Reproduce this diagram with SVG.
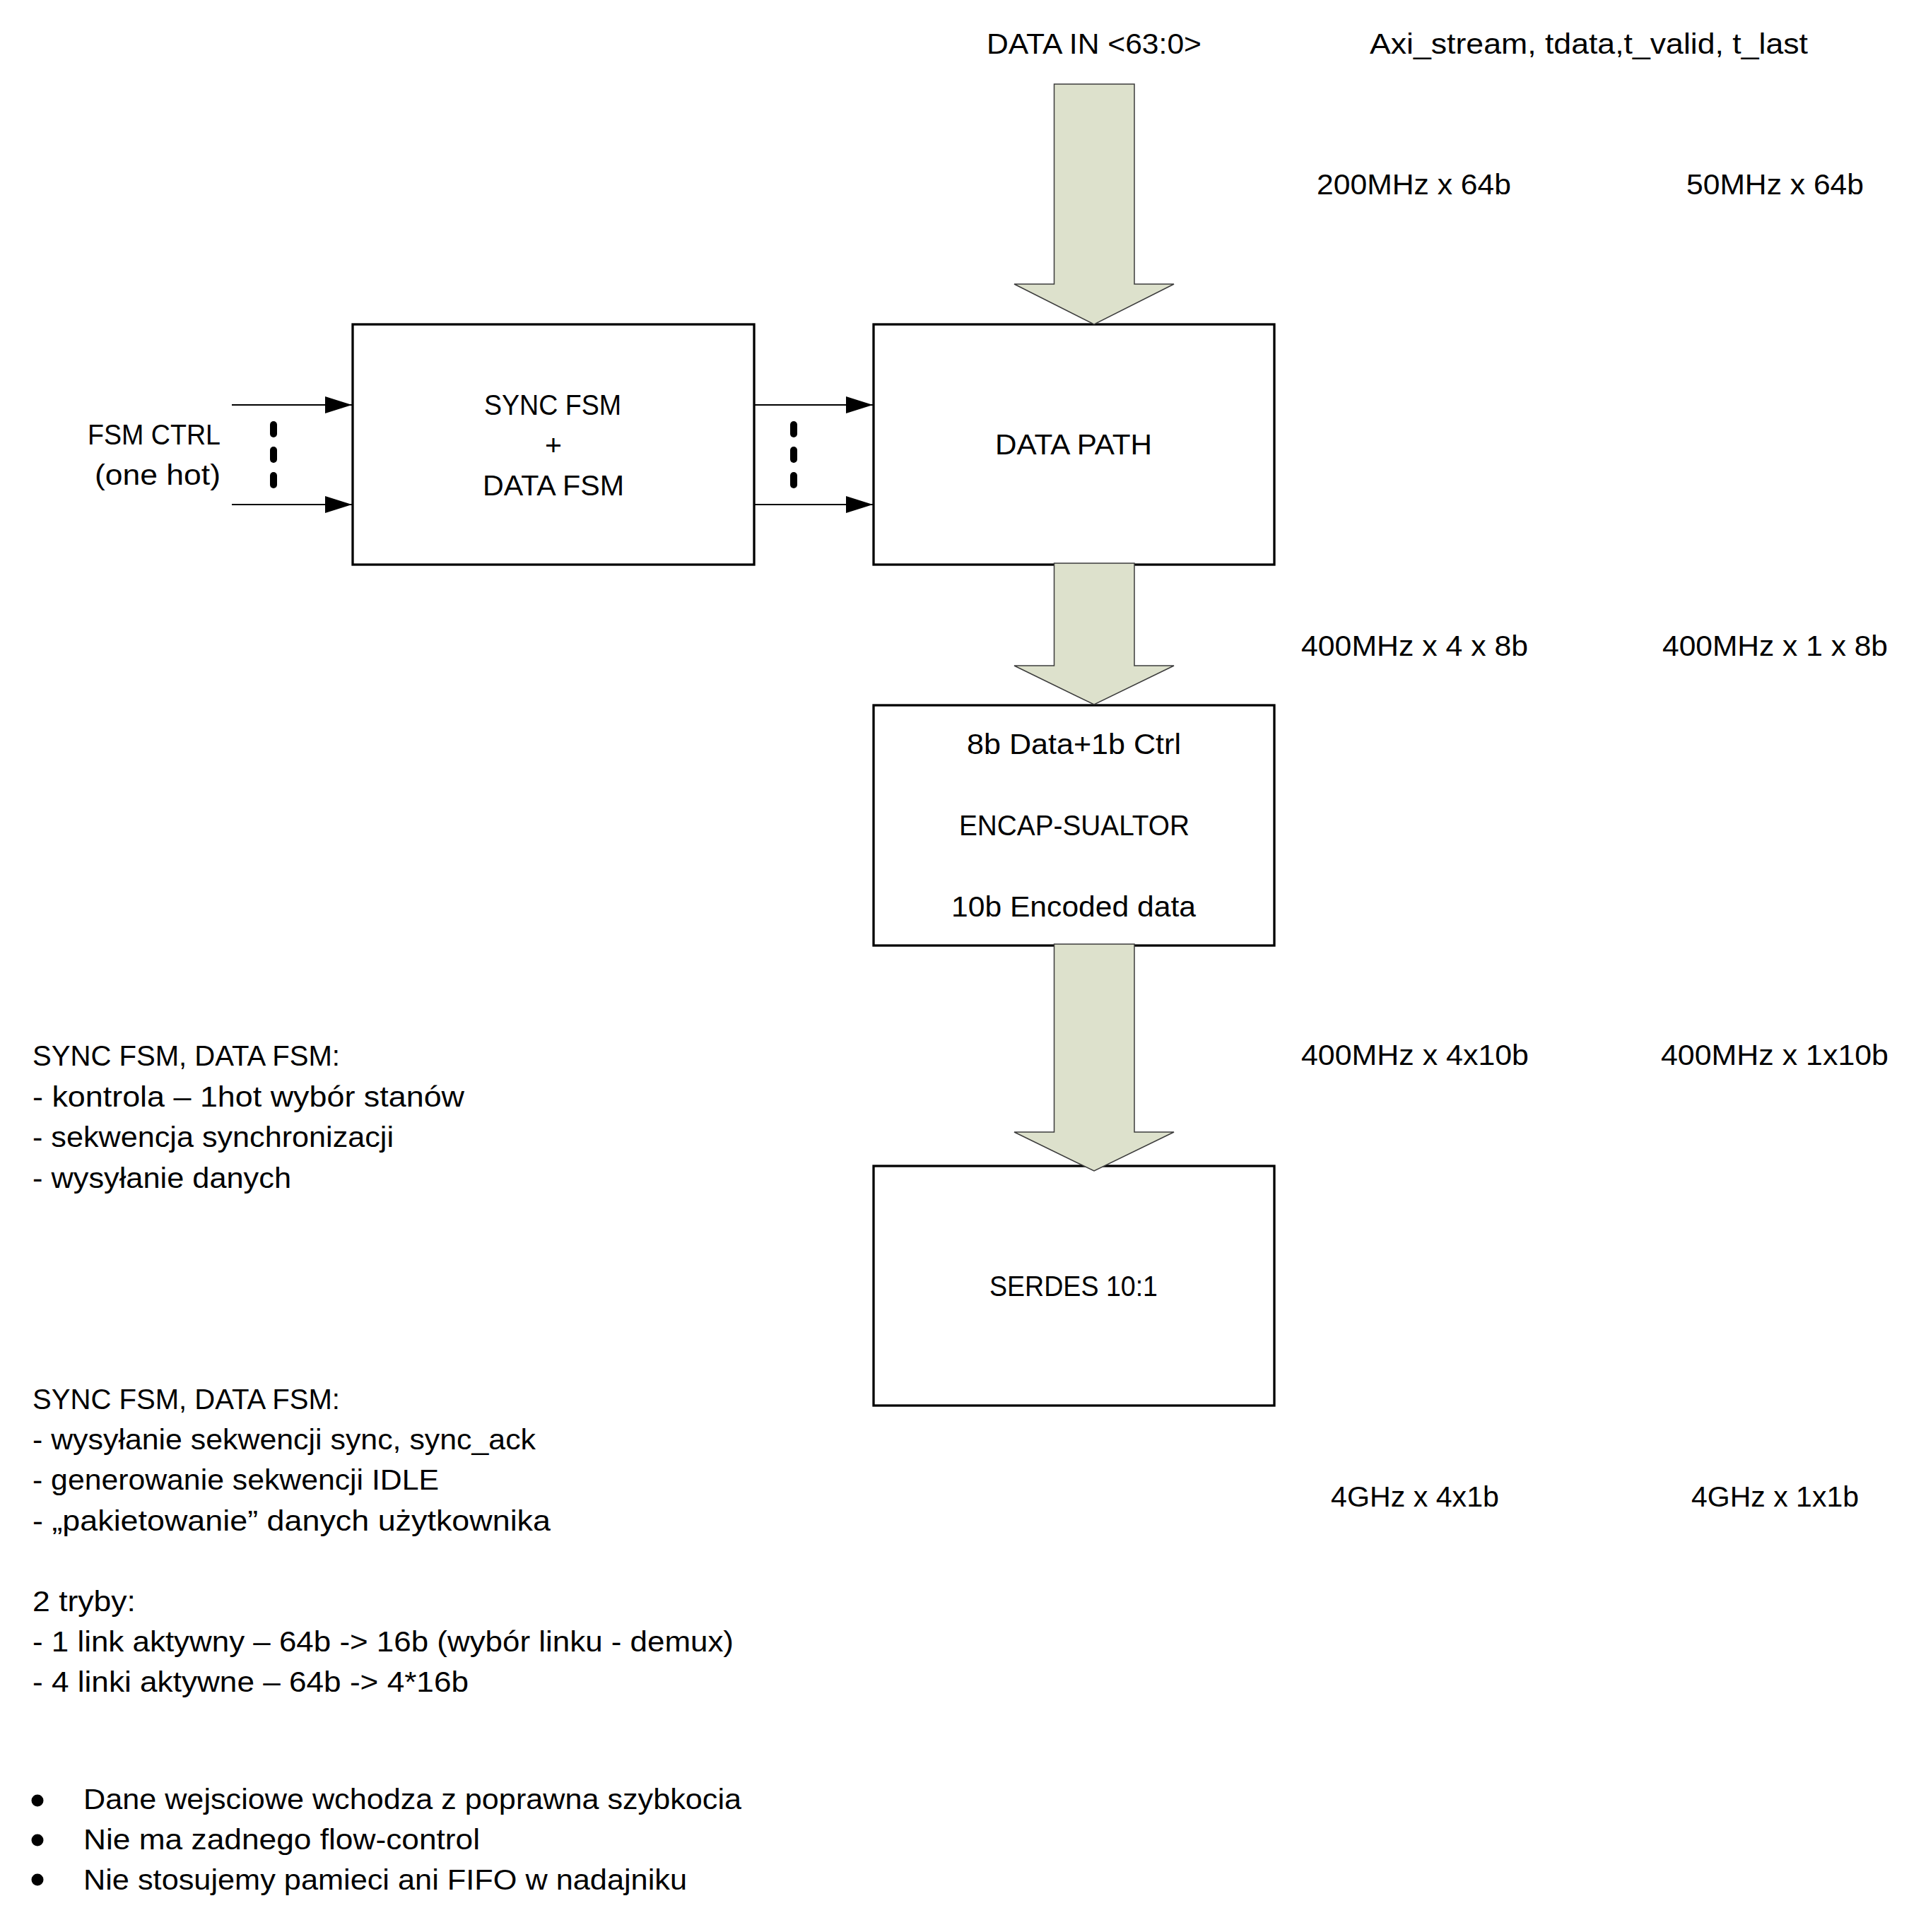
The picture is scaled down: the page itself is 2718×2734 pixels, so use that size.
<svg xmlns="http://www.w3.org/2000/svg" width="2718" height="2734" viewBox="0 0 2718 2734">
<defs>
<style>
text{font-family:"Liberation Sans",Arial,sans-serif;font-size:41px;fill:#000}
.c{text-anchor:middle}
.box{fill:#fff;stroke:#000;stroke-width:3.3}
.big{fill:#dde1cc;stroke:#3c3c3c;stroke-width:1.5}
.ln{stroke:#000;stroke-width:2.2;fill:none}
.dot{fill:#000}
</style>
<marker id="ah" markerUnits="userSpaceOnUse" viewBox="0 0 38 24" refX="38" refY="12" markerWidth="38" markerHeight="24" orient="auto"><path d="M0,0 L38,12 L0,24 Z" fill="#000"/></marker>
</defs>
<rect width="2718" height="2734" fill="#fff"/>

<g id="sync-fsm">
<rect class="box" x="499" y="459" width="568" height="340"/>
<text x="685" y="587" textLength="194" lengthAdjust="spacingAndGlyphs">SYNC FSM</text>
<text class="c" x="783" y="644">+</text>
<text x="683" y="701" textLength="200" lengthAdjust="spacingAndGlyphs">DATA FSM</text>
</g>

<g id="data-path">
<rect class="box" x="1236" y="459" width="567" height="340"/>
<text x="1408" y="643" textLength="222" lengthAdjust="spacingAndGlyphs">DATA PATH</text>
</g>

<g id="encap">
<rect class="box" x="1236" y="998" width="567" height="340"/>
<text x="1368" y="1067" textLength="303" lengthAdjust="spacingAndGlyphs">8b Data+1b Ctrl</text>
<text x="1357" y="1182" textLength="326" lengthAdjust="spacingAndGlyphs">ENCAP-SUALTOR</text>
<text x="1346" y="1297" textLength="346" lengthAdjust="spacingAndGlyphs">10b Encoded data</text>
</g>

<g id="serdes">
<rect class="box" x="1236" y="1650" width="567" height="339"/>
<text x="1400" y="1834" textLength="238" lengthAdjust="spacingAndGlyphs">SERDES 10:1</text>
</g>

<g id="fsm-ctrl">
<text x="124" y="629" textLength="188" lengthAdjust="spacingAndGlyphs">FSM CTRL</text>
<text x="134" y="686" textLength="178" lengthAdjust="spacingAndGlyphs">(one hot)</text>
</g>

<g id="connectors">
<line class="ln" x1="328" y1="573" x2="498" y2="573" marker-end="url(#ah)"/>
<line class="ln" x1="328" y1="714" x2="498" y2="714" marker-end="url(#ah)"/>
<rect class="dot" x="382" y="596" width="10" height="23" rx="5"/>
<rect class="dot" x="382" y="632" width="10" height="23" rx="5"/>
<rect class="dot" x="382" y="668" width="10" height="23" rx="5"/>
<line class="ln" x1="1067" y1="573" x2="1235" y2="573" marker-end="url(#ah)"/>
<line class="ln" x1="1067" y1="714" x2="1235" y2="714" marker-end="url(#ah)"/>
<rect class="dot" x="1118" y="596" width="10" height="23" rx="5"/>
<rect class="dot" x="1118" y="632" width="10" height="23" rx="5"/>
<rect class="dot" x="1118" y="668" width="10" height="23" rx="5"/>
<polygon class="big" points="1491.5,119 1605,119 1605,402 1661,402 1548,459 1435,402 1491.5,402"/>
<polygon class="big" points="1491.5,797 1605,797 1605,942 1661,942 1548,997 1435,942 1491.5,942"/>
<polygon class="big" points="1491.5,1336 1605,1336 1605,1602 1661,1602 1548,1657 1435,1602 1491.5,1602"/>
</g>

<g id="labels">
<text x="1396" y="76" textLength="304" lengthAdjust="spacingAndGlyphs">DATA IN &lt;63:0&gt;</text>
<text x="1938" y="76" textLength="620" lengthAdjust="spacingAndGlyphs">Axi_stream, tdata,t_valid, t_last</text>
<text x="1863" y="275" textLength="275" lengthAdjust="spacingAndGlyphs">200MHz x 64b</text>
<text x="2386" y="275" textLength="251" lengthAdjust="spacingAndGlyphs">50MHz x 64b</text>
<text x="1841" y="928" textLength="321" lengthAdjust="spacingAndGlyphs">400MHz x 4 x 8b</text>
<text x="2352" y="928" textLength="319" lengthAdjust="spacingAndGlyphs">400MHz x 1 x 8b</text>
<text x="1841" y="1507" textLength="322" lengthAdjust="spacingAndGlyphs">400MHz x 4x10b</text>
<text x="2350" y="1507" textLength="322" lengthAdjust="spacingAndGlyphs">400MHz x 1x10b</text>
<text x="1883" y="2132" textLength="238" lengthAdjust="spacingAndGlyphs">4GHz x 4x1b</text>
<text x="2393" y="2132" textLength="237" lengthAdjust="spacingAndGlyphs">4GHz x 1x1b</text>
</g>

<g id="notes-1">
<text x="46" y="1508" textLength="435" lengthAdjust="spacingAndGlyphs">SYNC FSM, DATA FSM:</text>
<text x="46" y="1566" textLength="611" lengthAdjust="spacingAndGlyphs">- kontrola – 1hot wybór stanów</text>
<text x="46" y="1623" textLength="511" lengthAdjust="spacingAndGlyphs">- sekwencja synchronizacji</text>
<text x="46" y="1681" textLength="366" lengthAdjust="spacingAndGlyphs">- wysyłanie danych</text>
</g>

<g id="notes-2">
<text x="46" y="1994" textLength="435" lengthAdjust="spacingAndGlyphs">SYNC FSM, DATA FSM:</text>
<text x="46" y="2051" textLength="712" lengthAdjust="spacingAndGlyphs">- wysyłanie sekwencji sync, sync_ack</text>
<text x="46" y="2108" textLength="575" lengthAdjust="spacingAndGlyphs">- generowanie sekwencji IDLE</text>
<text x="46" y="2166" textLength="733" lengthAdjust="spacingAndGlyphs">- „pakietowanie” danych użytkownika</text>
<text x="46" y="2280" textLength="146" lengthAdjust="spacingAndGlyphs">2 tryby:</text>
<text x="46" y="2337" textLength="992" lengthAdjust="spacingAndGlyphs">- 1 link aktywny – 64b -&gt; 16b (wybór linku - demux)</text>
<text x="46" y="2394" textLength="617" lengthAdjust="spacingAndGlyphs">- 4 linki aktywne – 64b -&gt; 4*16b</text>
</g>

<g id="notes-3">
<circle class="dot" cx="53" cy="2548" r="8.5"/>
<circle class="dot" cx="53" cy="2604" r="8.5"/>
<circle class="dot" cx="53" cy="2660" r="8.5"/>
<text x="118" y="2560" textLength="931" lengthAdjust="spacingAndGlyphs">Dane wejsciowe wchodza z poprawna szybkocia</text>
<text x="118" y="2617" textLength="561" lengthAdjust="spacingAndGlyphs">Nie ma zadnego flow-control</text>
<text x="118" y="2674" textLength="854" lengthAdjust="spacingAndGlyphs">Nie stosujemy pamieci ani FIFO w nadajniku</text>
</g>
</svg>
